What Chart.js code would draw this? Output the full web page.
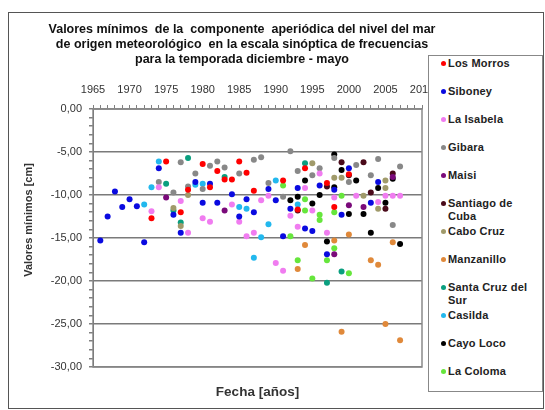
<!DOCTYPE html>
<html>
<head>
<meta charset="utf-8">
<script src="https://cdn.jsdelivr.net/npm/chart.js@4.4.1/dist/chart.umd.min.js"></script>
<style>
    body { margin: 0; background: #fff; font-family: "Liberation Sans", Arial, sans-serif; }
    #wrap { position: relative; width: 545px; height: 410px; overflow: hidden; }
    #frame { position: absolute; left: 8px; top: 12px; width: 536px; height: 397px; border: 1px solid #555; box-sizing: border-box; }
    #chart { position: absolute; left: 0; top: 0; }
    #legend { position: absolute; left: 428px; top: 55px; width: 115px; height: 337px; border: 1px solid #888; background: #fff; box-sizing: border-box; }
    .item { position: absolute; left: 12px; width: 92px; font-size: 11px; font-weight: bold; line-height: 13px; color: #222; padding-left: 7px; letter-spacing: 0.2px; }
    .dot { position: absolute; left: 0; top: 4px; width: 5px; height: 5px; border-radius: 50%; }
</style>
</head>
<body>
<div id="wrap">
    <div id="frame"></div>
    <canvas id="chart" width="484" height="410"></canvas>
    <div id="legend"></div>
</div>
<script>
// Títulos y etiquetas
const titleLines = [
    'Valores mínimos  de la  componente  aperiódica del nivel del mar',
    'de origen meteorológico  en la escala sinóptica de frecuencias',
    'para la temporada diciembre - mayo'
];
const xTitle = 'Fecha [años]';
const yTitle = 'Valores mínimos [cm]';

// Estaciones y colores
const stations = ['Los Morros', 'Siboney', 'La Isabela', 'Gibara', 'Maisi', 'Santiago de Cuba',
    'Cabo Cruz', 'Manzanillo', 'Santa Cruz del Sur', 'Casilda', 'Cayo Loco', 'La Coloma'];
const colors = ['#ff0000', '#0a0ae0', '#f07cf0', '#888888', '#7a0a7a', '#4a0a1a',
    '#a09a6a', '#e0893a', '#0a9f7f', '#22b8ee', '#000000', '#66e63c'];

// Datos [año, valor en cm]
const losMorros = [[1973,-12.7],[1975,-6.1],[1977,-12.0],[1978,-9.4],[1980,-6.4],[1981,-9.1],[1982,-7.2],[1983,-8.2],[1984,-8.2],[1985,-6.1],[1986,-7.4],[1987,-9.5],[1991,-8.3],[1993,-11.7],[1994,-6.9],[1997,-8.6],[1998,-11.4],[2000,-7.6]];
const siboney = [[1966,-15.3],[1967,-12.5],[1968,-9.6],[1969,-11.4],[1970,-10.5],[1971,-11.3],[1972,-15.5],[1974,-6.9],[1976,-12.3],[1977,-14.4],[1979,-8.5],[1980,-10.9],[1981,-8.7],[1982,-10.9],[1984,-9.9],[1985,-12.5],[1986,-10.5],[1987,-12.0],[1989,-9.3],[1990,-10.6],[1991,-14.8],[1992,-11.6],[1993,-9.2],[1994,-13.9],[1995,-14.2],[1996,-8.9],[1997,-16.9],[1998,-9.4],[1999,-12.3],[2000,-6.9],[2003,-10.9],[2004,-8.5]];
const laIsabela = [[1973,-11.9],[1974,-9.1],[1977,-10.7],[1978,-14.4],[1980,-12.7],[1981,-13.1],[1984,-11.1],[1985,-13.1],[1986,-14.8],[1987,-14.4],[1988,-10.6],[1989,-10.1],[1990,-17.9],[1991,-18.8],[1992,-12.4],[1993,-13.7],[1994,-9.2],[1995,-11.8],[1996,-7.5],[1997,-14.4],[1998,-10.3],[2001,-10.1],[2004,-10.8],[2005,-10.1],[2006,-10.1],[2007,-10.1]];
const gibara = [[1974,-8.5],[1976,-9.7],[1977,-6.2],[1978,-9.0],[1979,-7.5],[1980,-9.3],[1981,-6.6],[1982,-6.1],[1983,-6.8],[1985,-7.5],[1987,-5.9],[1988,-5.6],[1989,-8.6],[1991,-10.2],[1992,-4.9],[1993,-7.2],[1995,-7.7],[1996,-6.9],[1998,-5.7],[2000,-8.5],[2001,-6.5],[2003,-7.7],[2004,-5.8],[2006,-13.5],[2007,-6.7]];
const maisi = [[1975,-10.3],[1983,-11.8],[1998,-16.9],[2000,-11.2],[2002,-11.4],[2006,-7.9]];
const santiagoDeCuba = [[1993,-11.8],[1997,-9.0],[1999,-6.2],[2000,-7.7],[2002,-6.2],[2003,-9.7],[2005,-11.6],[2006,-7.5]];
const caboCruz = [[1976,-11.5],[1977,-13.6],[1978,-10.0],[1995,-6.3],[1998,-8.0],[1999,-8.0],[2002,-10.1],[2004,-11.6],[2005,-8.3],[2005,-9.2]];
const manzanillo = [[1993,-18.6],[1994,-15.8],[1998,-15.3],[1999,-25.9],[2000,-14.6],[2003,-17.6],[2004,-18.1],[2005,-25.0],[2006,-15.5],[2007,-26.9]];
const santaCruzDelSur = [[1975,-8.7],[1976,-11.8],[1977,-13.2],[1978,-5.7],[1983,-7.9],[1994,-6.3],[1997,-20.2],[1999,-18.9]];
const casilda = [[1972,-11.1],[1973,-9.1],[1974,-6.1],[1979,-8.8],[1980,-8.7],[1985,-11.4],[1986,-11.6],[1987,-17.3],[1988,-14.9],[1989,-13.4],[1990,-8.3],[1993,-11.1]];
const cayoLoco = [[1992,-10.6],[1993,-10.2],[1994,-8.3],[1995,-11.0],[1996,-10.0],[1997,-15.4],[1998,-5.3],[1998,-9.1],[1999,-7.1],[2000,-12.2],[2001,-8.3],[2002,-12.2],[2003,-14.4],[2004,-9.2],[2005,-10.9],[2006,-8.1],[2007,-15.7]];
const laColoma = [[1991,-8.9],[1992,-14.8],[1993,-17.6],[1994,-10.5],[1994,-11.8],[1995,-19.7],[1996,-12.3],[1996,-12.9],[1997,-17.6],[1998,-12.0],[1998,-16.2],[1999,-10.1],[2000,-19.1]];

const seriesData = [losMorros, siboney, laIsabela, gibara, maisi, santiagoDeCuba,
    caboCruz, manzanillo, santaCruzDelSur, casilda, cayoLoco, laColoma];

// Ejes
const xMin = 1965, xMax = 2010;
const yMin = -30, yMax = 0;

const fontFamily = '"Liberation Sans", Arial, sans-serif';

function fmtComma(v) {
    return v.toFixed(2).replace('.', ',');
}

// Borde del área y títulos de ejes
const extras = {
    id: 'extras',
    beforeDatasetsDraw(chart) {
        const { ctx, chartArea: a } = chart;
        ctx.save();
        ctx.strokeStyle = '#8a8a8a';
        ctx.lineWidth = 1.5;
        ctx.strokeRect(a.left, a.top, a.right - a.left, a.bottom - a.top);
        ctx.restore();
    },
    afterDraw(chart) {
        const { ctx, chartArea: a } = chart;
        ctx.save();
        ctx.fillStyle = '#333';
        ctx.textAlign = 'center';
        ctx.textBaseline = 'middle';
        ctx.font = 'bold 13.5px ' + fontFamily;
        ctx.fillText(xTitle, (a.left + a.right) / 2, a.bottom + 25);
        ctx.translate(29, a.top + 111);
        ctx.rotate(-Math.PI / 2);
        ctx.font = 'bold 11px ' + fontFamily;
        ctx.fillText(yTitle, 0, 0);
        ctx.restore();
    }
};

new Chart(document.getElementById('chart').getContext('2d'), {
    type: 'scatter',
    data: {
        datasets: stations.map((name, i) => ({
            label: name,
            data: seriesData[i].map(p => ({ x: p[0], y: p[1] })),
            backgroundColor: colors[i],
            borderColor: colors[i],
            borderWidth: 0,
            pointRadius: 3
        }))
    },
    options: {
        responsive: false,
        animation: false,
        layout: { padding: { left: 0, right: 0, top: 0, bottom: 43 } },
        plugins: {
            legend: { display: false },
            tooltip: { enabled: false },
            title: {
                display: true,
                text: titleLines,
                color: '#111',
                font: { family: fontFamily, size: 12.5, weight: 'bold', lineHeight: 1.2 },
                padding: { top: 22, bottom: 2 }
            }
        },
        scales: {
            x: {
                type: 'linear',
                position: 'top',
                min: xMin,
                max: xMax,
                afterFit: s => { s.height = 40; },
                ticks: {
                    stepSize: 1,
                    autoSkip: false,
                    maxRotation: 0,
                    padding: 8,
                    color: '#333',
                    font: { family: fontFamily, size: 11 },
                    callback: v => (v % 5 === 0 ? String(v) : '')
                },
                grid: { color: 'transparent', tickColor: '#808080', tickLength: 4 },
                border: { color: '#808080', width: 1.5 }
            },
            y: {
                min: yMin,
                max: yMax,
                afterFit: s => { s.width = 93; },
                ticks: {
                    stepSize: 1,
                    autoSkip: false,
                    padding: 7,
                    color: '#333',
                    font: { family: fontFamily, size: 11 },
                    callback: v => (v % 5 === 0 ? fmtComma(v) : '')
                },
                grid: {
                    color: c => (c.tick && c.tick.value % 5 === 0 ? '#7a7a7a' : 'transparent'),
                    lineWidth: 1.5,
                    tickColor: '#808080',
                    tickLength: 4
                },
                border: { color: '#555', width: 1 }
            },
            // eje vacío a la derecha para dejar sitio a la leyenda
            yRight: {
                position: 'right',
                min: yMin,
                max: yMax,
                afterFit: s => { s.width = 62; },
                ticks: { display: false },
                grid: { display: false },
                border: { display: false }
            }
        }
    },
    plugins: [extras]
});

// Leyenda
const legend = document.getElementById('legend');
stations.forEach((name, i) => {
    const item = document.createElement('div');
    item.className = 'item';
    item.style.top = (1 + i * 28) + 'px';
    item.innerHTML = `<span class="dot" style="background:${colors[i]}"></span>${name}`;
    legend.appendChild(item);
});
</script>
</body>
</html>
